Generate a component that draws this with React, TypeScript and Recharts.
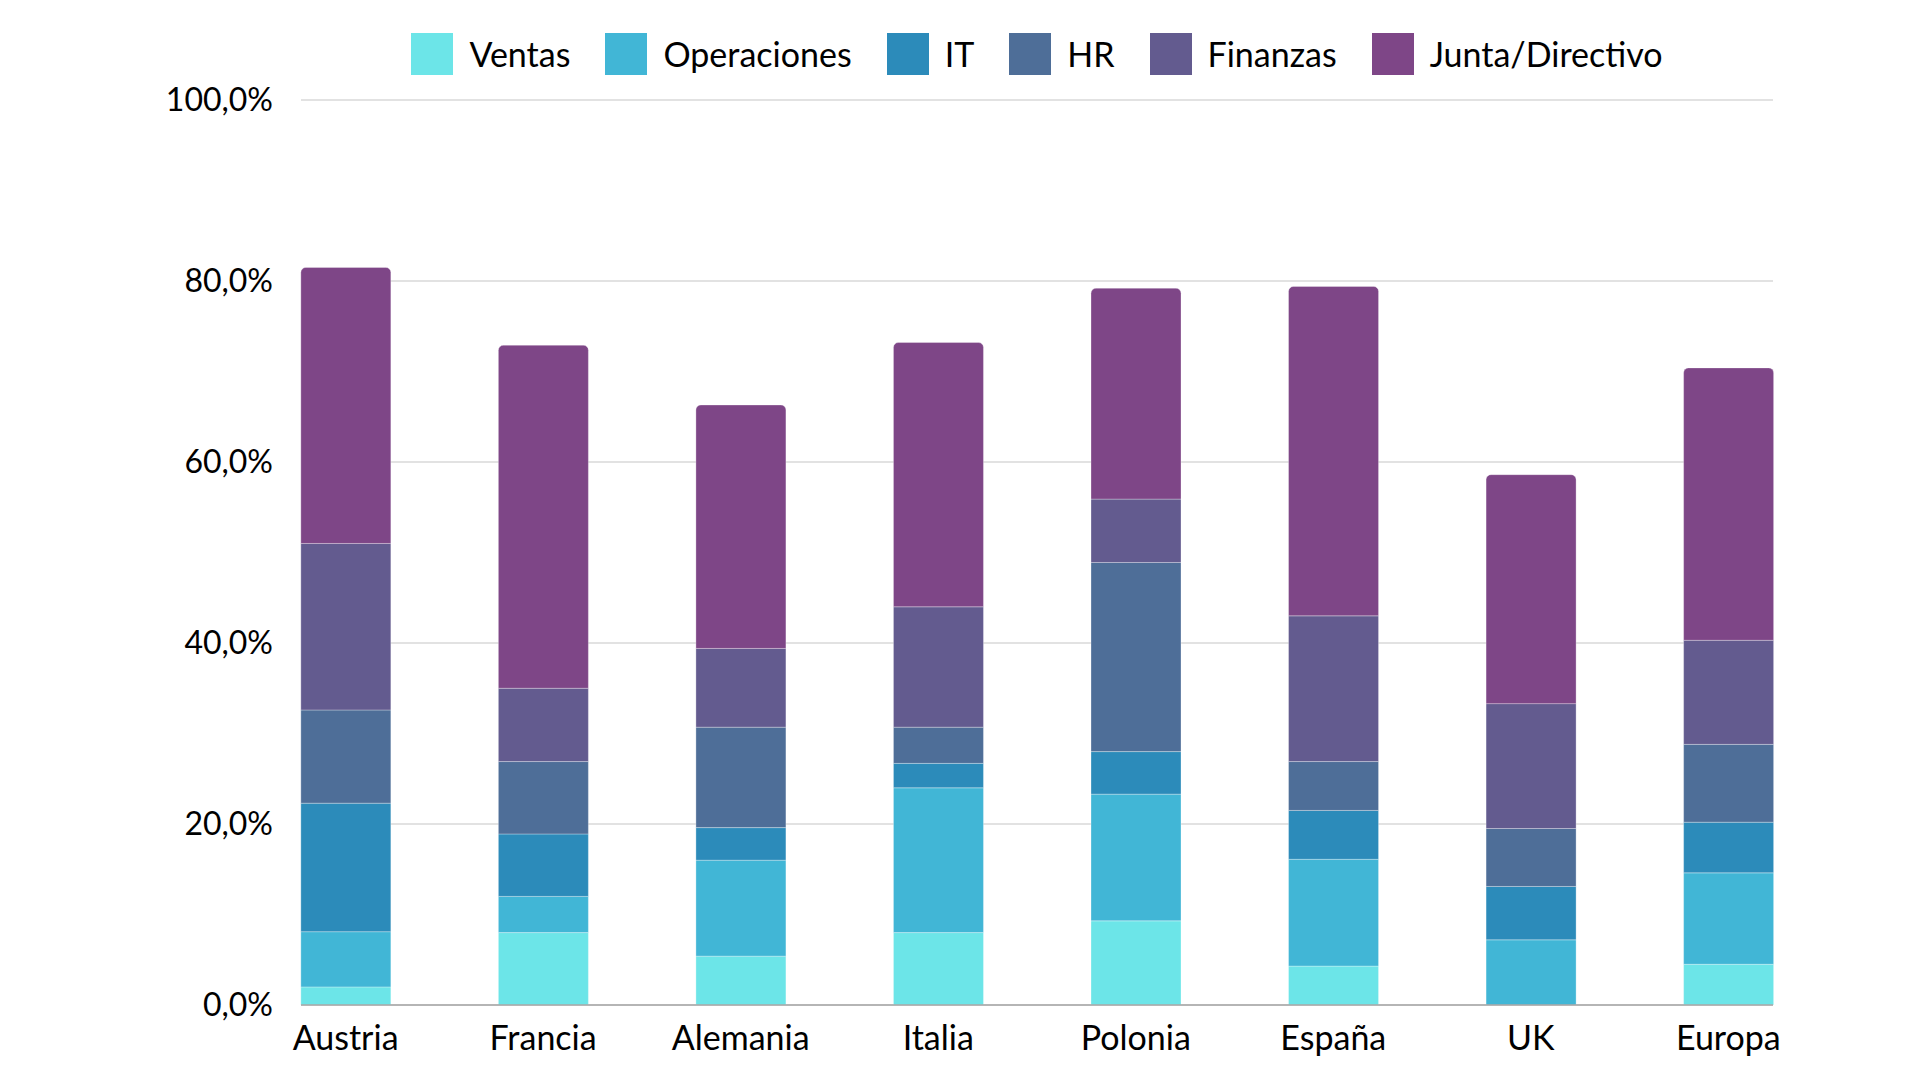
import { Bar, BarChart, CartesianGrid, XAxis, YAxis } from "recharts";

const countries = ["Austria", "Francia", "Alemania", "Italia", "Polonia", "España", "UK", "Europa"];

const ventas = [2.0, 8.0, 5.4, 8.0, 9.3, 4.3, 0, 4.5];
const operaciones = [6.1, 4.0, 10.6, 16.0, 14.0, 11.8, 7.2, 10.1];
const it = [14.2, 6.9, 3.6, 2.7, 4.7, 5.4, 5.9, 5.6];
const hr = [10.3, 8.0, 11.1, 4.0, 20.9, 5.4, 6.4, 8.6];
const finanzas = [18.4, 8.1, 8.7, 13.3, 7.0, 16.1, 13.8, 11.5];
const junta = [30.5, 37.9, 26.9, 29.2, 23.3, 36.4, 25.3, 30.1];

const yTicks = [0, 20, 40, 60, 80, 100];

const series = [
  { key: "ventas", name: "Ventas", color: "#6CE5E8", values: ventas },
  { key: "operaciones", name: "Operaciones", color: "#41B6D6", values: operaciones },
  { key: "it", name: "IT", color: "#2C8BBA", values: it },
  { key: "hr", name: "HR", color: "#4E6E98", values: hr },
  { key: "finanzas", name: "Finanzas", color: "#635B8F", values: finanzas },
  { key: "junta", name: "Junta/Directivo", color: "#7E4687", values: junta },
];

const chartData = countries.map((country, i) => {
  const row: Record<string, number | string> = { idx: i, country };
  series.forEach((s) => {
    row[s.key] = s.values[i];
  });
  return row;
});

const FONT = "Lato, 'Noto Sans', sans-serif";

function formatPercent(value: number) {
  return `${value.toFixed(1).replace(".", ",")}%`;
}

export default function App() {
  return (
    <div
      style={{
        position: "absolute",
        left: 0,
        top: 0,
        width: 1920,
        height: 1080,
        background: "#fff",
        fontFamily: FONT,
      }}
    >
      <div
        style={{
          position: "absolute",
          top: 33,
          left: 301,
          width: 1472,
          display: "flex",
          justifyContent: "center",
          alignItems: "center",
          gap: 35,
        }}
      >
        {series.map((s) => (
          <div key={s.key} style={{ display: "flex", alignItems: "center", gap: 16 }}>
            <span style={{ width: 42, height: 42, background: s.color, display: "inline-block" }} />
            <span style={{ fontSize: 34, color: "#000", lineHeight: "42px" }}>{s.name}</span>
          </div>
        ))}
      </div>

      <BarChart
        width={1920}
        height={1080}
        data={chartData}
        margin={{ top: 100, right: 147, bottom: 0, left: 0 }}
      >
        <CartesianGrid vertical={false} stroke="#D9D9D9" strokeWidth={1.5} />
        <XAxis
          dataKey="idx"
          type="number"
          height={75}
          domain={[-0.2258, 7.2258]}
          ticks={[0, 1, 2, 3, 4, 5, 6, 7]}
          tickFormatter={(i) => countries[i]}
          tickLine={false}
          tickSize={0}
          tickMargin={21}
          axisLine={{ stroke: "#A6A6A6", strokeWidth: 1.5 }}
          tick={{ fontSize: 34, fill: "#000", fontFamily: FONT }}
          interval={0}
        />
        <YAxis
          domain={[0, 100]}
          ticks={yTicks}
          tickFormatter={formatPercent}
          axisLine={false}
          tickLine={false}
          tickSize={0}
          tickMargin={28}
          width={301}
          tick={{ fontSize: 32, fill: "#000", fontFamily: FONT }}
        />
        {series.map((s, i) => (
          <Bar
            key={s.key}
            dataKey={s.key}
            name={s.name}
            stackId="a"
            fill={s.color}
            barSize={90}
            stroke="rgba(255,255,255,0.3)"
            strokeWidth={1}
            radius={i === series.length - 1 ? [5, 5, 0, 0] : 0}
            isAnimationActive={false}
          />
        ))}
      </BarChart>
    </div>
  );
}
